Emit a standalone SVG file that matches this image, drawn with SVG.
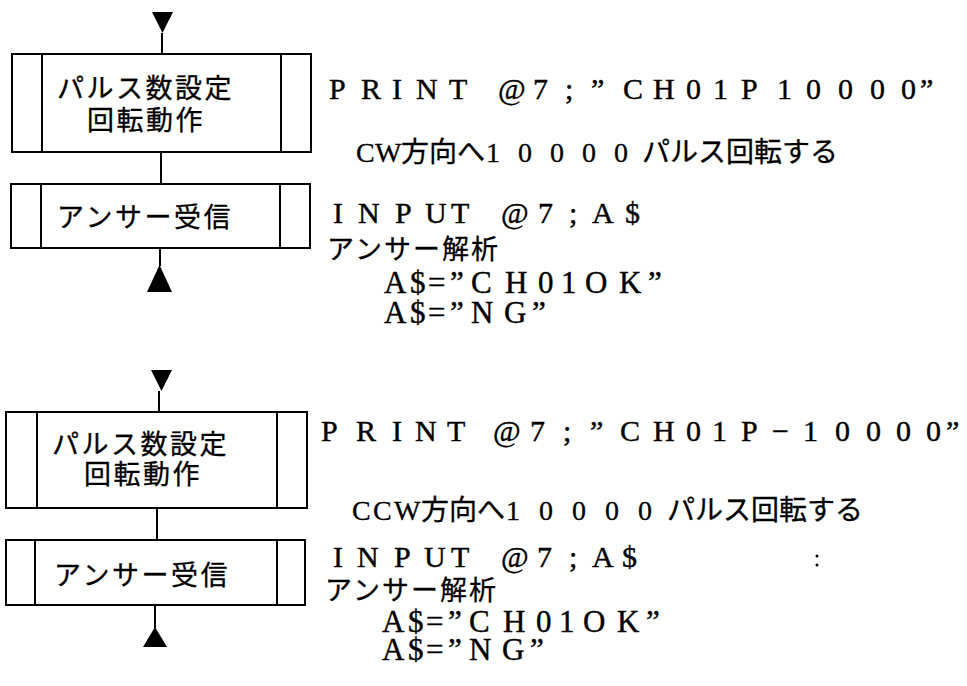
<svg xmlns="http://www.w3.org/2000/svg" width="967" height="686" viewBox="0 0 967 686">
<style>
.box{fill:#fff;stroke:#000;stroke-width:2}
.ln{stroke:#000;stroke-width:2;fill:none}
.tri{fill:#000}
.jp{font-family:"Noto Sans CJK JP","Noto Sans",sans-serif;font-size:27px;fill:#000;stroke:#000;stroke-width:0.3}
.lat{font-family:"Liberation Serif","Noto Sans CJK JP",serif;font-size:30px;fill:#000;stroke:#000;stroke-width:0.4}
.big{font-size:31px}
.mix{font-family:"Liberation Serif","Noto Sans CJK JP",serif;font-size:28px;fill:#000;stroke:#000;stroke-width:0.3}
</style>
<rect width="967" height="686" fill="#fff"/>
<g id="connectors">
<polygon class="tri" points="152,12 173,12 162.5,33"/>
<line class="ln" x1="162" y1="33" x2="162" y2="54"/>
<line class="ln" x1="161" y1="152" x2="161" y2="184"/>
<line class="ln" x1="160" y1="248" x2="160" y2="266"/>
<polygon class="tri" points="147,292 172,292 159.5,265"/>
<polygon class="tri" points="151,370 172,370 161.5,391"/>
<line class="ln" x1="159" y1="391" x2="159" y2="412"/>
<line class="ln" x1="157" y1="508" x2="157" y2="540"/>
<line class="ln" x1="155" y1="605" x2="155" y2="628"/>
<polygon class="tri" points="143,647 167,647 155,627"/>
</g>
<g id="node-pulse-set-1">
<rect class="box" x="12" y="54" width="299" height="98"/>
<line class="ln" x1="42" y1="54" x2="42" y2="152"/>
<line class="ln" x1="281" y1="54" x2="281" y2="152"/>
<text class="jp" x="57" y="98" letter-spacing="2.5">パルス数設定</text>
<text class="jp" x="87" y="130" letter-spacing="2.5">回転動作</text>
</g>
<g id="node-answer-1">
<rect class="box" x="11" y="184" width="299" height="64"/>
<line class="ln" x1="41" y1="184" x2="41" y2="248"/>
<line class="ln" x1="280" y1="184" x2="280" y2="248"/>
<text class="jp" x="57" y="227" letter-spacing="2.5">アンサー受信</text>
</g>
<g id="node-pulse-set-2">
<rect class="box" x="6" y="412" width="301" height="96"/>
<line class="ln" x1="37" y1="412" x2="37" y2="508"/>
<line class="ln" x1="277" y1="412" x2="277" y2="508"/>
<text class="jp" x="52" y="454" letter-spacing="2.5">パルス数設定</text>
<text class="jp" x="84" y="484" letter-spacing="2.5">回転動作</text>
</g>
<g id="node-answer-2">
<rect class="box" x="6" y="540" width="299" height="65"/>
<line class="ln" x1="35" y1="540" x2="35" y2="605"/>
<line class="ln" x1="277" y1="540" x2="277" y2="605"/>
<text class="jp" x="54" y="585" letter-spacing="2.5">アンサー受信</text>
</g>
<g id="notes-1">
<text class="lat" x="329 361 392 416 449 498 533 565 591 623 653 686 713 741 777 806 838 870 901 920" y="99">PRINT@7;”CH01P10000”</text>
<text class="mix" x="356 375 401 429 457 486 518 550 582 614 642 670 698 726 754 782 810" y="162">CW方向へ10000パルス回転する</text>
<text class="lat" x="333 358 395 425 451 501 538 569 592 625" y="223">INPUT@7;A$</text>
<text class="jp" x="327" y="259" letter-spacing="2">アンサー解析</text>
<text class="lat big" x="384 410 428 450 471 505 538 561 585 619 648" y="293">A$=”CH01OK”</text>
<text class="lat big" x="384 410 428 450 471 504 532" y="323">A$=”NG”</text>
</g>
<g id="notes-2">
<text class="lat" x="321 356 392 415 447 493 530 563 590 620 653 686 712 741 772 803 835 866 896 926 946" y="441">PRINT@7;”CH01P−10000”</text>
<text class="mix" x="352 373 394 421 449 477 506 539 572 605 638 667 695 723 751 779 807 835" y="520">CCW方向へ10000パルス回転する</text>
<text class="lat" x="333 357 394 424 451 501 537 569 592 622" y="567">INPUT@7;A$</text>
<text class="jp" x="325" y="600" letter-spacing="2">アンサー解析</text>
<text class="lat big" x="382 408 426 448 469 503 536 559 583 617 646" y="632">A$=”CH01OK”</text>
<text class="lat big" x="382 408 426 448 469 502 530" y="660">A$=”NG”</text>
<circle cx="817" cy="556" r="1.5" fill="#000"/>
<circle cx="817" cy="565" r="1.5" fill="#000"/>
</g>
</svg>
